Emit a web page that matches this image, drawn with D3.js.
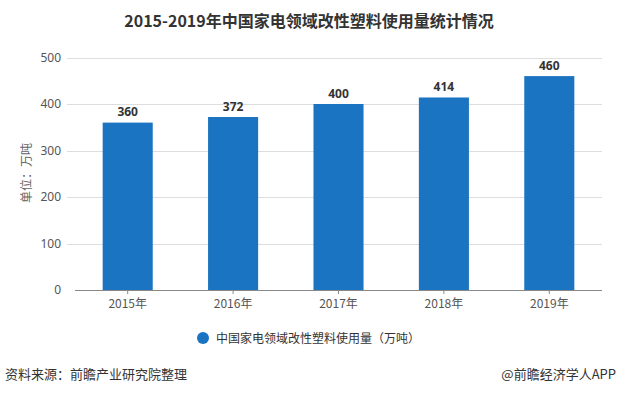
<!DOCTYPE html>
<html lang="zh">
<head>
<meta charset="UTF-8">
<title>2015-2019年中国家电领域改性塑料使用量统计情况</title>
<script src="https://cdn.jsdelivr.net/npm/d3@7/dist/d3.min.js"></script>
<style>
  body { margin: 0; background: #fff; }
  text { font-family: "Noto Sans CJK SC", "Noto Sans", sans-serif; }
</style>
</head>
<body>
<script>
var years = ["2015年", "2016年", "2017年", "2018年", "2019年"];
var usage = [360, 372, 400, 414, 460];
var yTicks = [0, 100, 200, 300, 400, 500];

var width = 617, height = 393;
var svg = d3.select("body").append("svg")
    .attr("width", width)
    .attr("height", height);

// 标题
svg.append("text")
    .attr("x", 309).attr("y", 27)
    .attr("text-anchor", "middle")
    .style("font-size", "16px").style("font-weight", "bold")
    .style("fill", "#333")
    .text("2015-2019年中国家电领域改性塑料使用量统计情况");

var x = d3.scaleBand().domain(years).range([75, 602]).paddingInner(0.525).paddingOuter(0.2625);
var y = d3.scaleLinear().domain([0, 500]).range([290, 57.5]);

// 网格线
svg.append("g").selectAll("line")
    .data(yTicks.slice(1))
    .enter().append("line")
    .attr("x1", 67).attr("x2", 602)
    .attr("y1", function (d) { return Math.round(y(d)) + 0.5; })
    .attr("y2", function (d) { return Math.round(y(d)) + 0.5; })
    .style("stroke", "#ddd").style("stroke-width", 1);

// y轴
var yAxis = svg.append("g")
    .attr("transform", "translate(67,0)")
    .call(d3.axisLeft(y).tickValues(yTicks).tickSize(0).tickPadding(6));
yAxis.select(".domain").remove();
yAxis.selectAll("text").style("font-size", "12px").style("fill", "#555")
    .style("font-family", "'Noto Sans', sans-serif");

// x轴
var xAxis = svg.append("g")
    .attr("transform", "translate(0," + Math.round(y(0)) + ")")
    .call(d3.axisBottom(x).tickSizeInner(4).tickSizeOuter(0).tickPadding(5));
xAxis.select(".domain").attr("d", "M75,0.5H602").style("stroke", "#888");
xAxis.selectAll(".tick line").style("stroke", "#888");
xAxis.selectAll("text").style("font-size", "12px").style("fill", "#555");

// 柱子
svg.append("g").selectAll("rect")
    .data(usage)
    .enter().append("rect")
    .attr("x", function (d, i) { return x(years[i]); })
    .attr("y", function (d) { return y(d); })
    .attr("width", x.bandwidth())
    .attr("height", function (d) { return y(0) - y(d); })
    .style("fill", "#1a74c1");

// 数值标签
svg.append("g").selectAll("text")
    .data(usage)
    .enter().append("text")
    .attr("x", function (d, i) { return x(years[i]) + x.bandwidth() / 2; })
    .attr("y", function (d) { return y(d) - 6.5; })
    .attr("text-anchor", "middle")
    .style("font-size", "12px").style("font-weight", "bold")
    .style("fill", "#333")
    .style("font-family", "'Noto Sans', sans-serif")
    .text(function (d) { return d; });

// y轴标题
svg.append("text")
    .attr("transform", "translate(31,173) rotate(-90)")
    .attr("text-anchor", "middle")
    .style("font-size", "12px").style("fill", "#666")
    .text("单位：万吨");

// 图例
svg.append("circle")
    .attr("cx", 203).attr("cy", 338).attr("r", 6)
    .style("fill", "#1a74c1");
svg.append("text")
    .attr("x", 216).attr("y", 342.5)
    .style("font-size", "12px").style("fill", "#333")
    .text("中国家电领域改性塑料使用量（万吨）");

// 来源
svg.append("text")
    .attr("x", 5).attr("y", 379)
    .style("font-size", "13px").style("fill", "#333")
    .text("资料来源：前瞻产业研究院整理");
svg.append("text")
    .attr("x", 616).attr("y", 379)
    .attr("text-anchor", "end")
    .style("font-size", "13px").style("fill", "#333")
    .text("@前瞻经济学人APP");
</script>
</body>
</html>
